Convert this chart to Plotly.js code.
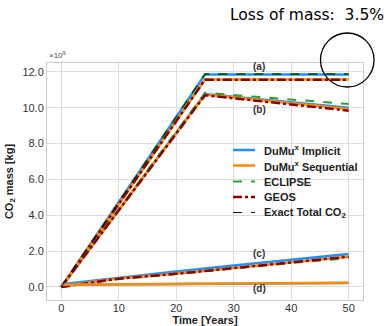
<!DOCTYPE html>
<html><head><meta charset="utf-8">
<script src="https://cdn.plot.ly/plotly-3.0.1.min.js"></script>
<style>html,body{margin:0;padding:0;background:#fff}#chart{width:389px;height:326px}</style>
</head><body><div id="chart"></div>
<script>
// values in units of 1e9 kg
const modelNames = ["DuMu<sup>x</sup> Implicit", "DuMu<sup>x</sup> Sequential", "ECLIPSE", "GEOS"];
const modelColors = ["#1e90ff", "#ff8c00", "#2ca02c", "#8b0000"];
const modelDash = ["solid", "solid", "dash", "dashdot"];
const modelWidth = [2.5, 2.5, 2, 2.5];

const timeAB = [0, 25, 50];
// (a) total CO2 in domain
const totalA = [
  [0.0, 11.86, 11.86],
  [0.0, 11.58, 11.58],
  [0.0, 11.88, 11.88],
  [0.0, 11.57, 11.57]
];
// (b) mobile CO2
const mobileB = [
  [0.0, 10.76, 10.00],
  [0.0, 10.74, 9.93],
  [0.0, 10.84, 10.21],
  [0.0, 10.70, 9.84]
];
const timeC = [0, 10, 20, 30, 40, 50];
// (c) dissolved CO2
const dissolvedC = [
  [0.15, 0.52, 0.86, 1.19, 1.51, 1.84],
  [0.05, 0.47, 0.75, 1.06, 1.38, 1.68],
  [0.0, 0.45, 0.72, 1.03, 1.33, 1.60],
  [0.0, 0.46, 0.73, 1.04, 1.36, 1.69]
];
const timeD = [0, 50];
// (d) immobile / trapped CO2
const trappedD = [
  [0.12, 0.22],
  [0.12, 0.23]
];
const exactName = "Exact Total CO<sub>2</sub>";
const exactTime = [0, 25, 50];
const exactTotal = [0.0, 11.88, 11.88];

const yTicks = [0, 2, 4, 6, 8, 10, 12];
const xTicks = [0, 10, 20, 30, 40, 50];

const traces = [];
function add(i, x, y) {
  traces.push({x: x, y: y, type: 'scatter', mode: 'lines', name: modelNames[i], showlegend: false,
    line: {color: modelColors[i], dash: modelDash[i], width: modelWidth[i]}});
}
for (let i = 0; i < 4; i++) add(i, timeAB, totalA[i]);
for (let i = 0; i < 4; i++) add(i, timeAB, mobileB[i]);
for (let i = 0; i < 4; i++) add(i, timeC, dissolvedC[i]);
add(0, timeD, trappedD[0]);
add(1, timeD, trappedD[1]);
traces.push({x: exactTime, y: exactTotal, type: 'scatter', mode: 'lines', showlegend: false,
  name: exactName, line: {color: '#111', dash: 'dash', width: 1}});

const fontFam = 'Liberation Sans, Arial, sans-serif';
const M = {l: 47, r: 26, t: 63, b: 26};
const W = 389, H = 326;
const PW = W - M.l - M.r, PH = H - M.t - M.b;
const px = X => (X - M.l) / PW;
const py = Y => (H - M.b - Y) / PH;

const lab = (t, y) => ({text: t, x: 34.4, y: y, xref: 'x', yref: 'y', showarrow: false,
  font: {family: fontFam, size: 10, color: '#333', weight: 'bold'}});

// hand-built legend (compact row spacing like the reference)
const legNames = modelNames.concat([exactName]);
const legColors = modelColors.concat(['#111']);
const legDash = modelDash.concat(['dash']);
const legWidth = [2.5, 2.5, 2, 2.5, 1];
const legRowsY = [150, 165.5, 181.5, 197, 212.5];
const shapes = [{type: 'circle', xref: 'paper', yref: 'paper', x0: px(320.5), x1: px(374), y0: py(87), y1: py(33),
    line: {color: '#000', width: 1.3}}];
const annotations = [
  lab('(a)', 12.28), lab('(b)', 9.93), lab('(c)', 1.84), lab('(d)', -0.11),
  {text: '×10<sup>9</sup>', xref: 'paper', yref: 'paper', x: 0, y: 1.005, xanchor: 'left', yanchor: 'bottom',
    showarrow: false, font: {family: fontFam, size: 8, color: '#444'}},
  {text: 'Loss of mass:\u00a0 3.5%', xref: 'paper', yref: 'paper', x: px(386), y: py(15.5), xanchor: 'right', yanchor: 'middle',
    showarrow: false, font: {family: 'DejaVu Sans, sans-serif', size: 15.5, color: '#000'}}
];
for (let k = 0; k < legNames.length; k++) {
  shapes.push({type: 'line', xref: 'paper', yref: 'paper', x0: px(233), x1: px(255), y0: py(legRowsY[k]), y1: py(legRowsY[k]),
    line: {color: legColors[k], dash: legDash[k], width: legWidth[k]}});
  annotations.push({text: legNames[k], xref: 'paper', yref: 'paper', x: px(262), y: py(legRowsY[k]),
    xanchor: 'left', yanchor: 'middle', showarrow: false,
    font: {family: fontFam, size: 11, color: '#222', weight: 'bold'}});
}

const layout = {
  width: W, height: H,
  margin: M,
  paper_bgcolor: '#fff', plot_bgcolor: '#fff',
  showlegend: false,
  xaxis: {range: [-2.5, 52.5], tickvals: xTicks, showgrid: true, gridcolor: '#dddddd', gridwidth: 1,
    zeroline: false, showline: true, mirror: true, linecolor: '#cccccc', linewidth: 1,
    ticks: '', ticklabelstandoff: -2, tickfont: {family: fontFam, size: 11, color: '#333'},
    title: {text: 'Time [Years]', standoff: 5, font: {family: fontFam, size: 11, color: '#222', weight: 'bold'}}},
  yaxis: {range: [-0.73, 12.5], tickvals: yTicks, tickformat: '.1f', showgrid: true, gridcolor: '#dddddd', gridwidth: 1,
    zeroline: false, showline: true, mirror: true, linecolor: '#cccccc', linewidth: 1,
    ticks: '', tickfont: {family: fontFam, size: 11, color: '#333'},
    title: {text: 'CO<sub>2</sub> mass [kg]', standoff: 6, font: {family: fontFam, size: 11, color: '#222', weight: 'bold'}}},
  annotations: annotations,
  shapes: shapes
};
Plotly.newPlot('chart', traces, layout, {staticPlot: true, displayModeBar: false});
</script></body></html>
